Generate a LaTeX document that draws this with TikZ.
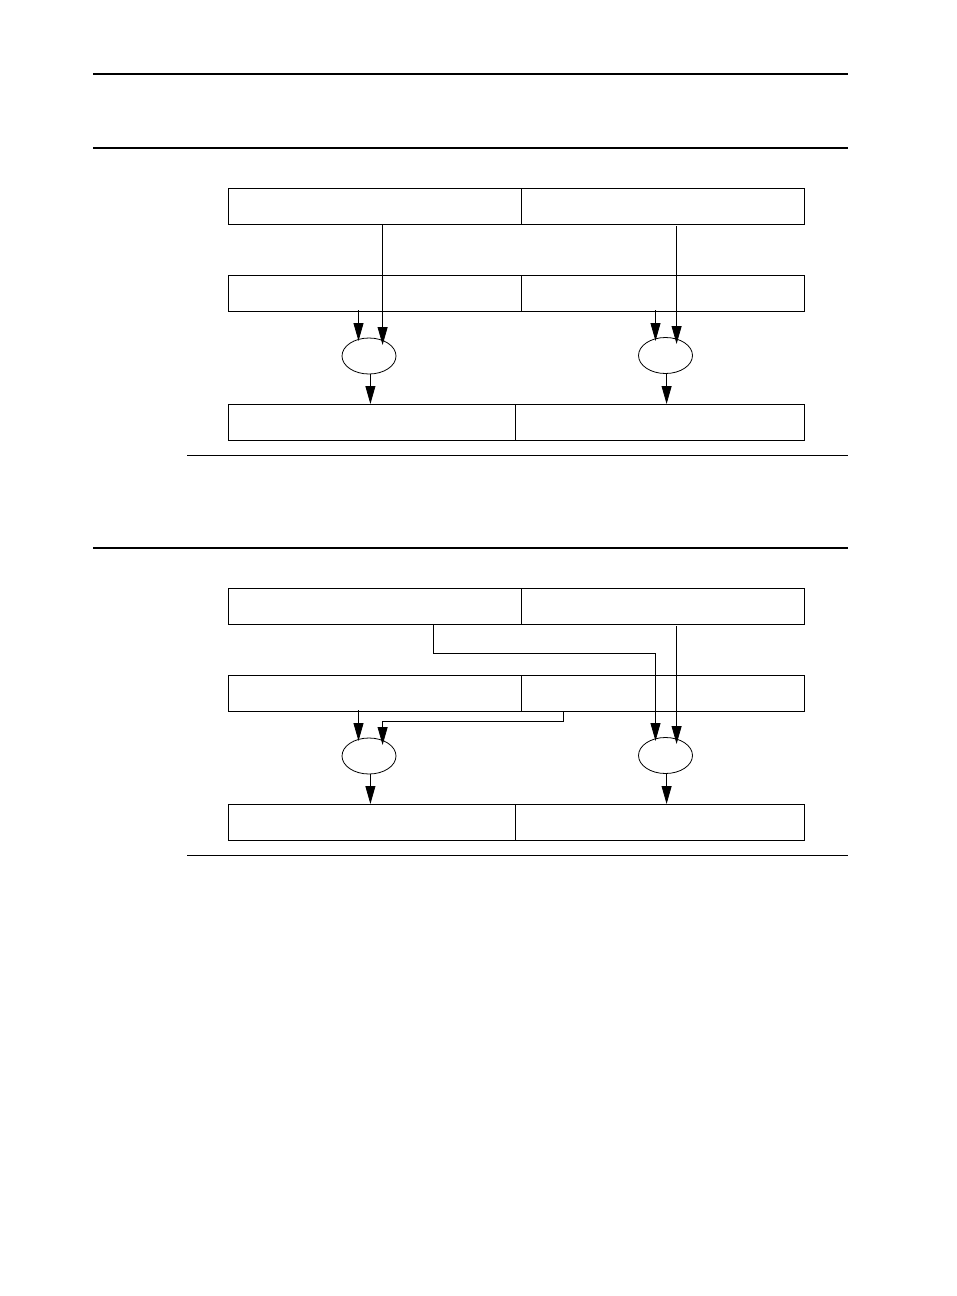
\documentclass[tikz,border=0pt]{standalone}
\usetikzlibrary{arrows.meta,shapes.geometric}
\begin{document}
\begin{tikzpicture}[x=1pt,y=-1pt,
  thickrule/.style={line width=2pt},
  thinrule/.style={line width=1pt},
  cell/.style={draw,line width=0.9pt,minimum height=36pt,inner sep=0pt,outer sep=0pt,anchor=north west},
  op/.style={draw,ellipse,line width=0.8pt,minimum width=54pt,minimum height=36pt,inner sep=0pt},
  flow/.style={line width=0.8pt,-{Triangle[length=18pt,width=10pt]}},
  wire/.style={line width=0.8pt}]
\useasboundingbox (0,0) rectangle (956,1296);
% rules
\draw[thickrule] (93,74) -- (848,74);
\draw[thickrule] (93,148) -- (848,148);
\draw[thinrule] (187,455) -- (848,455);
\draw[thickrule] (93,548) -- (848,548);
\draw[thinrule] (187,855) -- (848,855);

% ---------- upper diagram ----------
\node[cell,minimum width=293pt] (a1) at (228,188) {};
\node[cell,minimum width=283pt] (b1) at (521,188) {};
\node[cell,minimum width=293pt] (a2) at (228,275) {};
\node[cell,minimum width=283pt] (b2) at (521,275) {};
\node[op] (e1) at (369,356) {};
\node[op] (e2) at (665.5,355.5) {};
\node[cell,minimum width=287pt] (a3) at (228,404) {};
\node[cell,minimum width=289pt] (b3) at (515,404) {};

\coordinate (u1) at (382.6,224);
\coordinate (u2) at (382.6,345);
\coordinate (u3) at (358.5,310);
\coordinate (u4) at (358.5,341);
\coordinate (u5) at (676.6,226);
\coordinate (u6) at (676.6,344);
\coordinate (u7) at (655.5,310);
\coordinate (u8) at (655.5,341);
\coordinate (u9) at (370.4,374);
\coordinate (u10) at (370.4,404);
\coordinate (u11) at (666.6,373);
\coordinate (u12) at (666.6,404);
\draw[flow] (u1) -- (u2);
\draw[flow] (u3) -- (u4);
\draw[flow] (u5) -- (u6);
\draw[flow] (u7) -- (u8);
\draw[flow] (u9) -- (u10);
\draw[flow] (u11) -- (u12);

% ---------- lower diagram ----------
\node[cell,minimum width=293pt] (c1) at (228,588) {};
\node[cell,minimum width=283pt] (d1) at (521,588) {};
\node[cell,minimum width=293pt] (c2) at (228,675) {};
\node[cell,minimum width=283pt] (d2) at (521,675) {};
\node[op] (f1) at (369,756) {};
\node[op] (f2) at (665.5,755.5) {};
\node[cell,minimum width=287pt] (c3) at (228,804) {};
\node[cell,minimum width=289pt] (d3) at (515,804) {};

\coordinate (p1) at (433.2,624);
\coordinate (p2) at (433.2,653.3);
\coordinate (p3) at (655.5,653.3);
\coordinate (p4) at (655.5,741);
\draw[wire] (p1) -- (p2) -- (p3);
\draw[flow] (p3) -- (p4);
\coordinate (r1) at (676.6,626);
\coordinate (r2) at (676.6,744);
\draw[flow] (r1) -- (r2);
\coordinate (r3) at (358.5,710);
\coordinate (r4) at (358.5,741);
\draw[flow] (r3) -- (r4);
\coordinate (q1) at (563.3,711);
\coordinate (q2) at (563.3,721.3);
\coordinate (q3) at (382.6,721.3);
\coordinate (q4) at (382.6,745);
\draw[wire] (q1) -- (q2) -- (q3);
\draw[flow] (q3) -- (q4);
\coordinate (r5) at (370.4,774);
\coordinate (r6) at (370.4,804);
\coordinate (r7) at (666.6,773);
\coordinate (r8) at (666.6,804);
\draw[flow] (r5) -- (r6);
\draw[flow] (r7) -- (r8);
\end{tikzpicture}
\end{document}
